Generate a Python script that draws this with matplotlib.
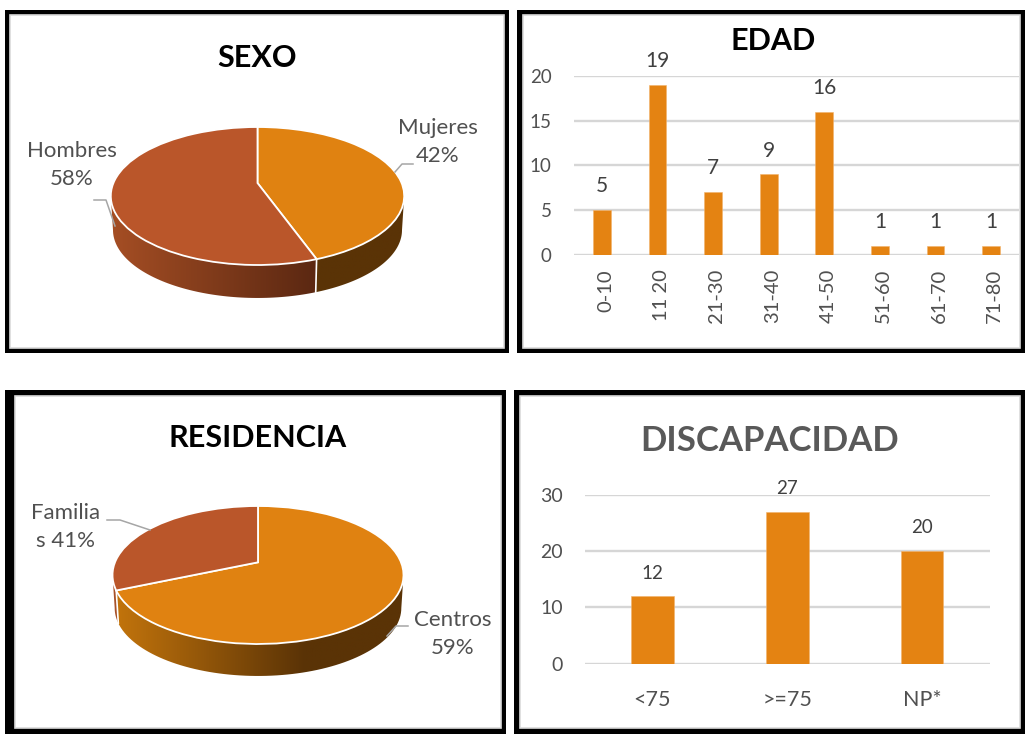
import numpy as np
import matplotlib
matplotlib.use("Agg")
import matplotlib.pyplot as plt
from matplotlib.patches import Rectangle, Polygon
from matplotlib.colors import LinearSegmentedColormap

plt.rcParams['font.family'] = ['Lato', 'DejaVu Sans']

# ---- data ----
sexo_names = ['Mujeres', 'Hombres']
sexo_shares = [43.4, 56.6]          # slice sizes as drawn
sexo_text = ['Mujeres\n42%', 'Hombres\n58%']
residencia_names = ['Centros', 'Familias']
residencia_shares = [71.4, 28.6]    # slice sizes as drawn
residencia_text = ['Centros\n59%', 'Familia\ns 41%']
edad_cats = ['0-10', '11 20', '21-30', '31-40', '41-50', '51-60', '61-70', '71-80']
edad_vals = [5, 19, 7, 9, 16, 1, 1, 1]
disc_cats = ['<75', '>=75', 'NP*']
disc_vals = [12, 27, 20]

ORANGE = '#E08211'
BROWN = '#BA562A'
BAR = '#E48312'
GRID = '#D6D6D6'
TXT = '#505050'
W, H = 1025, 742

fig = plt.figure(figsize=(W / 100, H / 100), dpi=100, facecolor='white')


def box(l, t, r, b, **kw):
    return fig.add_axes([l / W, 1 - b / H, (r - l) / W, (b - t) / H], **kw)


# background frames
bg = fig.add_axes([0, 0, 1, 1], zorder=0)
bg.set_xlim(0, W)
bg.set_ylim(H, 0)
bg.axis('off')
for (ol, ot, or_, ob), (il, it, ir, ib) in [
    ((5, 10, 509, 353), (10, 15, 504, 348)),
    ((517, 10, 1025, 353), (522.5, 15, 1020, 348)),
    ((5, 390, 506, 734), (15, 395.5, 501, 728)),
    ((514, 390, 1025, 734), (519.5, 395.5, 1020, 728)),
]:
    bg.add_patch(Rectangle((ol, ot), or_ - ol, ob - ot, fc='black', ec='none'))
    bg.add_patch(Rectangle((il, it), ir - il, ib - it, fc='white', ec='#DADADA', lw=1.2))

# overlay for text and leader lines
top = fig.add_axes([0, 0, 1, 1], zorder=5)
top.set_xlim(0, W)
top.set_ylim(H, 0)
top.axis('off')
top.patch.set_alpha(0)


def pie3d(cx, cy, rx, ry, apex_px, depth_px, shares, colors, sides):
    xm, ytop, ybot = 1.05, 1.05, 1.75
    ax = box(cx - xm * rx, cy - ytop * ry, cx + xm * rx, cy + ybot * ry, zorder=1)
    ax.patch.set_alpha(0)
    wedges, _ = ax.pie(shares, colors=colors, startangle=90, counterclock=False,
                       radius=1, wedgeprops=dict(edgecolor='white', linewidth=1.3, zorder=3))
    ax.set_aspect('auto')
    apex = apex_px / ry
    for w in wedges:
        v = w.get_path().vertices
        v[np.all(np.isclose(v, 0), axis=1)] = (0, apex)
    dz = depth_px / ry
    for w, stops in zip(wedges, sides):
        a = max(w.theta1, -180)
        b = min(w.theta2, 0)
        if a >= b:
            continue
        t = np.radians(np.linspace(a, b, 80))
        up = np.c_[np.cos(t), np.sin(t)]
        low = np.c_[0.985 * np.cos(t[::-1]), 0.985 * np.sin(t[::-1]) - dz]
        poly = Polygon(np.r_[up, low], closed=True, fc='none', ec='none',
                       transform=ax.transData)
        ax.add_patch(poly)
        cmap = LinearSegmentedColormap.from_list('side', stops)
        im = ax.imshow(np.linspace(0, 1, 256)[None, :], cmap=cmap, vmin=0, vmax=1,
                       extent=(-1, 1, -1 - dz, 1), aspect='auto', zorder=2)
        im.set_clip_path(poly)
        if a > -180:
            ax.plot([np.cos(np.radians(a)), 0.985 * np.cos(np.radians(a))],
                    [np.sin(np.radians(a)), 0.985 * np.sin(np.radians(a)) - dz],
                    color='white', lw=1.2, zorder=2.5)
    ax.set_xlim(-xm, xm)
    ax.set_ylim(-ybot, ytop)
    ax.set_aspect('auto')
    ax.axis('off')
    return ax


# SEXO
pie3d(257.5, 196, 146.7, 69, 13, 34, sexo_shares, [ORANGE, BROWN],
      [[(0, '#5A3306'), (1, '#5A3306')],
       [(0, '#A54E24'), (0.8, '#50220F'), (1, '#50220F')]])
# RESIDENCIA
pie3d(258, 575, 145.5, 69, 12.7, 33, residencia_shares, [ORANGE, BROWN],
      [[(0, '#C4750C'), (0.66, '#5A3306'), (1, '#5A3306')],
       [(0, '#A85229'), (1, '#A85229')]])


def bars(l, t, r, b, cats, vals, ymax, step, width, tick_fs, lab_fs, pad, rotate):
    ax = box(l, t, r, b, zorder=1)
    ax.patch.set_alpha(0)
    x = np.arange(len(cats))
    rects = ax.bar(x, vals, width=width, color=BAR, edgecolor='#F2B36B', linewidth=0.4, zorder=3)
    ax.set_xlim(-0.5, len(cats) - 0.5)
    ax.set_ylim(0, ymax)
    ax.set_yticks(np.arange(0, ymax + 1, step))
    ax.grid(axis='y', color=GRID, lw=1.7, zorder=0)
    ax.set_axisbelow(True)
    for s in ax.spines.values():
        s.set_visible(False)
    ax.tick_params(length=0)
    ax.tick_params(axis='y', labelsize=tick_fs, labelcolor=TXT, pad=16)
    # rotated labels sit slightly to the right of their bars
    ax.set_xticks(x + (0.065 if rotate else 0))
    ax.set_xticklabels(cats)
    ax.bar_label(rects, labels=[str(v) for v in vals], padding=pad, fontsize=lab_fs,
                 color='#404040', clip_on=False)
    for lab in ax.get_xticklabels():
        lab.set_color(TXT)
        if rotate:
            lab.set_rotation(90)
            lab.set_fontsize(tick_fs + 1)
            lab.set_ha('center')
            lab.set_va('top')
    return ax


ax_e = bars(574, 76, 1019, 255, edad_cats, edad_vals, 20, 5, 0.32, 13.5, 15, 10, True)
ax_e.tick_params(axis='x', pad=10)
ax_d = bars(585, 494.7, 989.7, 663.7, disc_cats, disc_vals, 30, 10, 0.315, 14, 13.5, 10.5, False)
ax_d.tick_params(axis='x', pad=19, labelsize=15.5)
ax_d.tick_params(axis='y', pad=16)

# titles
for s, x, y, fs, c in [('SEXO', 257.5, 58, 22, 'black'),
                       ('EDAD', 773, 41, 22, 'black'),
                       ('RESIDENCIA', 258, 438, 22, 'black'),
                       ('DISCAPACIDAD', 770, 441, 25, '#595959')]:
    top.text(x, y, s, ha='center', va='center', fontsize=fs, fontweight='bold', color=c)

# pie labels
for s, x, y in [(sexo_text[0], 438, 142), (sexo_text[1], 72, 165),
                (residencia_text[0], 453, 634), (residencia_text[1], 66, 527)]:
    top.text(x, y, s, ha='center', va='center', fontsize=16, color=TXT,
             linespacing=1.5, multialignment='center')

# leader lines
for xs, ys in [([395, 402, 413], [172, 164, 164]),
               ([94, 106, 115], [200, 200, 226]),
               ([107, 120, 150], [520, 520, 530]),
               ([408, 396, 387], [626, 626, 636])]:
    top.plot(xs, ys, color='#A6A6A6', lw=1.1)

fig.savefig('out.png', dpi=100)
